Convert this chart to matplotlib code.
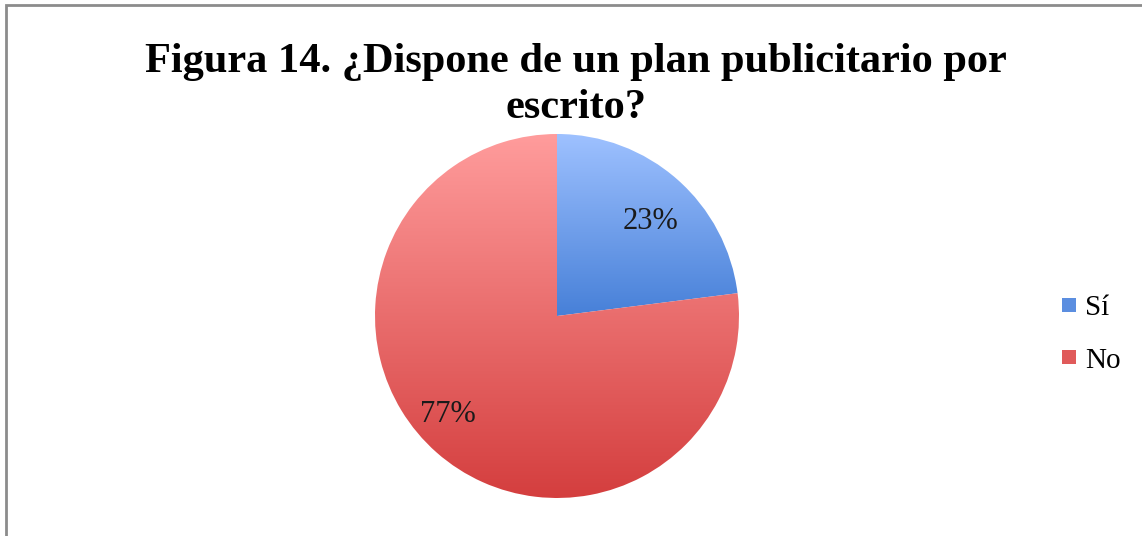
import numpy as np
import matplotlib
matplotlib.use("Agg")
import matplotlib.pyplot as plt
from matplotlib.colors import LinearSegmentedColormap
from matplotlib.patches import Rectangle

# Survey answers
labels = ["Sí", "No"]
shares = [23, 77]
pct_labels = ["23%", "77%"]

title = "Figura 14. ¿Dispone de un plan publicitario por\nescrito?"

# Vertical gradient per slice: top colour -> bottom colour
gradients = [
    ("#9ec1ff", "#4780d8"),
    ("#ff9c9c", "#d43e3e"),
]
legend_colors = ["#5b8ee0", "#e05a5a"]

W, H = 1142, 536
fig = plt.figure(figsize=(W / 100, H / 100), dpi=100)
fig.patch.set_facecolor("white")

# Chart area frame (only top and left edges fall inside the image)
fig.patches.append(Rectangle((6 / W, -0.1), 1.2, (536 - 5) / H + 0.1,
                             transform=fig.transFigure, fill=False,
                             edgecolor="#8c8c8c", linewidth=2.0))

fig.text(0.504, 1 - 85 / H, title, ha="center", va="center",
         fontsize=30.5, fontweight="bold", family="Liberation Serif",
         linespacing=1.27)

# Pie axes: centre (557, 316), radius 182 px
cx, cy, r = 557, 316, 182
ax = fig.add_axes([(cx - r) / W, (H - cy - r) / H, 2 * r / W, 2 * r / H])
wedges, _ = ax.pie(shares, startangle=90, counterclock=False, radius=1.0,
                   wedgeprops=dict(linewidth=0))
ax.set_xlim(-1, 1)
ax.set_ylim(-1, 1)
ax.set_aspect("equal")
ax.axis("off")

# Each slice gets its own gradient, stretched over the slice's own height
grad = np.linspace(1, 0, 256).reshape(-1, 1)
for w, (top, bottom) in zip(wedges, gradients):
    verts = w.get_patch_transform().transform(w.get_path().vertices)
    y0, y1 = verts[:, 1].min(), verts[:, 1].max()
    cmap = LinearSegmentedColormap.from_list("g", [bottom, top])
    w.set_facecolor("none")
    im = ax.imshow(grad, cmap=cmap, vmin=0, vmax=1, extent=(-1, 1, y0, y1),
                   origin="upper", aspect="auto", interpolation="bilinear")
    im.set_clip_path(w)
ax.set_xlim(-1, 1)
ax.set_ylim(-1, 1)

# Percentage labels near each slice's mid-angle (best-fit nudge in degrees)
angles = []
start = 90.0
for s in shares:
    span = 360.0 * s / sum(shares)
    angles.append(start - span / 2)
    start -= span
label_r = [0.73, 0.81]
label_nudge = [-3.5, -6.5]
for a, rr, dn, txt in zip(angles, label_r, label_nudge, pct_labels):
    t = np.deg2rad(a + dn)
    ax.text(rr * np.cos(t), rr * np.sin(t), txt, ha="center", va="center",
            fontsize=22, family="Liberation Serif", color="#1a1a1a")

# Legend
handles = [plt.Line2D([], [], marker="s", linestyle="none", markersize=10,
                      markerfacecolor=c, markeredgewidth=0) for c in legend_colors]
fig.legend(handles, labels, loc="center left",
           bbox_to_anchor=(1050 / W, 1 - 334 / H), frameon=False,
           prop={"family": "Liberation Serif", "size": 21},
           handlelength=0.5, handletextpad=0.3, labelspacing=0.9,
           borderaxespad=0)

fig.savefig("out.png", dpi=100)
